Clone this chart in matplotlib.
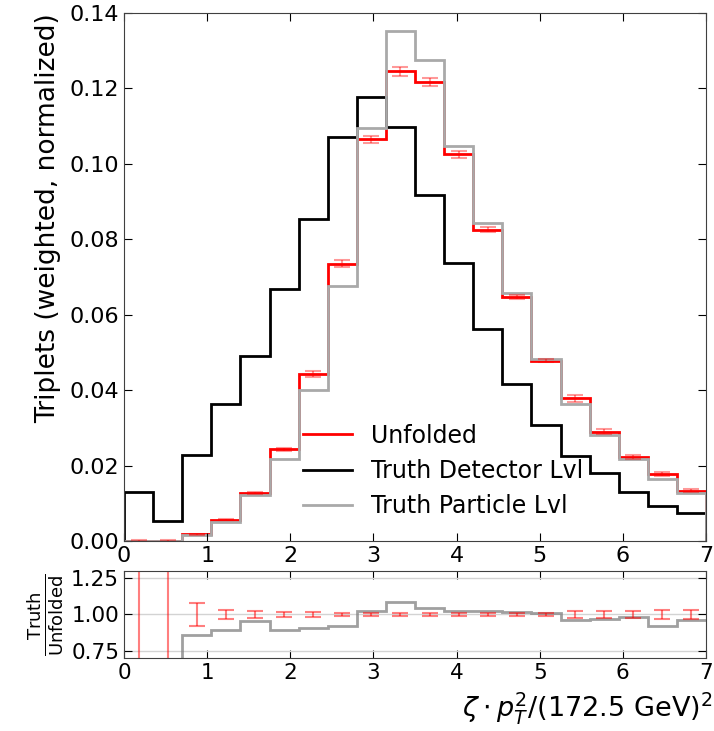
import matplotlib.pyplot as plt
import numpy as np

# binning in zeta * pT^2 / (172.5 GeV)^2
edges = np.linspace(0, 7, 21)

# normalized weighted triplet distributions
unfolded = [0.0001, 0.0001, 0.0018, 0.0057, 0.0127, 0.0243, 0.0443, 0.0735, 0.1065, 0.1245,
            0.1218, 0.1025, 0.0825, 0.0648, 0.0478, 0.0378, 0.0290, 0.0222, 0.0178, 0.0133]
truth_det = [0.0130, 0.0053, 0.0228, 0.0362, 0.0490, 0.0667, 0.0854, 0.1072, 0.1178, 0.1098,
             0.0918, 0.0737, 0.0563, 0.0416, 0.0308, 0.0225, 0.0180, 0.0130, 0.0093, 0.0073]
truth_part = [0.00003, 0.00003, 0.00155, 0.0051, 0.0121, 0.0217, 0.0401, 0.0677, 0.1094, 0.1352,
              0.1275, 0.1048, 0.0842, 0.0658, 0.0483, 0.0364, 0.0281, 0.0218, 0.0164, 0.0128]
# relative uncertainty on the unfolded result
rel_err = [3.0, 3.0, 0.079, 0.034, 0.027, 0.017, 0.018, 0.013, 0.009, 0.009,
           0.009, 0.008, 0.008, 0.008, 0.008, 0.022, 0.022, 0.022, 0.028, 0.028]

unfolded = np.array(unfolded)
truth_det = np.array(truth_det)
truth_part = np.array(truth_part)
rel_err = np.array(rel_err)
centers = 0.5 * (edges[1:] + edges[:-1])

fig = plt.figure(figsize=(7.14, 7.31), dpi=100)
ax = fig.add_axes([0.1737, 0.2599, 0.8151, 0.7223])
rax = fig.add_axes([0.1737, 0.0995, 0.8151, 0.1198])

# top panel: distributions
ax.stairs(unfolded, edges, color='red', lw=2, label='Unfolded')
ax.errorbar(centers, unfolded, yerr=unfolded * rel_err, fmt='none', ecolor='red',
            alpha=0.4, capsize=6, elinewidth=1.5, capthick=1.5)
ax.stairs(truth_det, edges, color='black', lw=2, label='Truth Detector Lvl')
ax.stairs(truth_part, edges, color='darkgray', lw=2, label='Truth Particle Lvl')

ax.set_xlim(0, 7)
ax.set_ylim(0, 0.14)
ax.set_yticks(np.arange(0, 0.141, 0.02))
ax.set_ylabel('Triplets (weighted, normalized)', fontsize=19, loc='top', labelpad=6)
ax.tick_params(direction='in', top=True, right=True, labelsize=16, length=6)
ax.legend(loc='center left', bbox_to_anchor=(0.3076, 0.1326), frameon=False, fontsize=17,
          borderpad=0, borderaxespad=0, labelspacing=0.48, handlelength=2.08)

# bottom panel: ratio truth / unfolded
ratio = truth_part / unfolded
rax.stairs(ratio, edges, baseline=None, color='gray', alpha=0.75, lw=2)
rax.errorbar(centers, np.ones_like(centers), yerr=rel_err, fmt='none', ecolor='red',
             alpha=0.5, capsize=6, elinewidth=1.5, capthick=1.5)
rax.set_xlim(0, 7)
rax.set_ylim(0.7, 1.3)
rax.set_yticks([0.75, 1.0, 1.25])
rax.grid(axis='y', color='lightgray', lw=1)
rax.set_axisbelow(True)
rax.tick_params(direction='in', top=True, right=True, labelsize=15.5, length=6)
rax.set_ylabel(r'$\frac{\mathrm{Truth}}{\mathrm{Unfolded}}$', fontsize=18.5)
rax.set_xlabel(r'$\zeta \cdot p_T^2/(172.5\ \mathrm{GeV})^2$', fontsize=19.5, loc='right')
rax.xaxis.set_label_coords(1.012, -0.36)

for a in (ax, rax):
    for s in a.spines.values():
        s.set_color('0.25')

fig.savefig('out.png', dpi=100)
